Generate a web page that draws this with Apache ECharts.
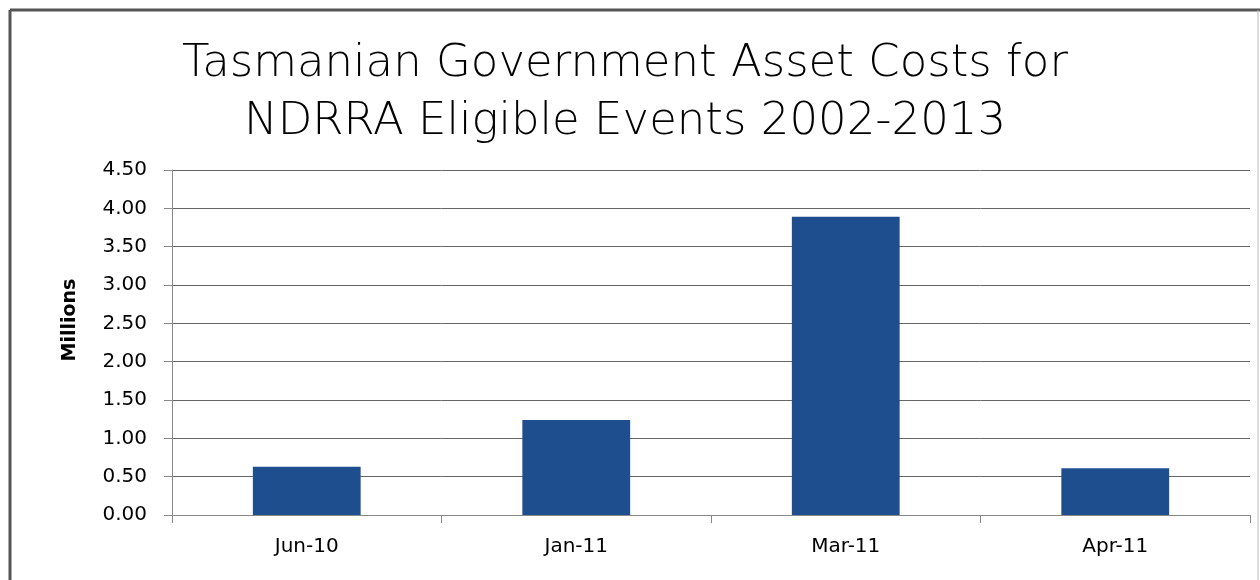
<!DOCTYPE html>
<html>
<head>
<meta charset="utf-8">
<script src="https://cdn.jsdelivr.net/npm/echarts@6/dist/echarts.min.js"></script>
<style>html,body{margin:0;padding:0;background:#fff;}#c{width:1260px;height:580px;}</style>
</head>
<body>
<div id="c"></div>
<script>
const categories = ['Jun-10', 'Jan-11', 'Mar-11', 'Apr-11'];
const values = [0.63, 1.24, 3.89, 0.61];
const titleLines = ['Tasmanian Government Asset Costs for', 'NDRRA Eligible Events 2002-2013'];
const yAxisName = 'Millions';

const chart = echarts.init(document.getElementById('c'));
chart.setOption({
  backgroundColor: '#fff',
  animation: false,
  title: {
    text: titleLines.join('\n'),
    left: 620, top: 30, textAlign: 'center',
    textStyle: { fontFamily: 'DejaVu Sans', fontWeight: 200, fontSize: 45, color: '#000', lineHeight: 58 }
  },
  graphic: [
    { type: 'line', shape: { x1: 10, y1: 10, x2: 1260, y2: 10 }, style: { stroke: '#555', lineWidth: 3 } },
    { type: 'line', shape: { x1: 10, y1: 10, x2: 10, y2: 580 }, style: { stroke: '#555', lineWidth: 3 } },
    { type: 'line', shape: { x1: 1258, y1: 10, x2: 1258, y2: 580 }, style: { stroke: '#bbb', lineWidth: 1 } },
    { type: 'text', x: 70, y: 320, rotation: Math.PI / 2,
      style: { text: yAxisName, fontFamily: 'DejaVu Sans', fontWeight: 'bold', fontSize: 19, fill: '#000', align: 'center', verticalAlign: 'middle' } }
  ],
  grid: { left: 172, right: 10, top: 170, bottom: 65 },
  xAxis: {
    type: 'category', data: categories,
    axisLine: { lineStyle: { color: '#888', width: 1 } },
    axisTick: { show: true, length: 8, lineStyle: { color: '#888' } },
    axisLabel: { margin: 22, fontFamily: 'DejaVu Sans', fontSize: 20, color: '#000' }
  },
  yAxis: {
    type: 'value', min: 0, max: 4.5, interval: 0.5,
    axisLine: { show: true, lineStyle: { color: '#888' } },
    axisTick: { show: true, length: 8, lineStyle: { color: '#888' } },
    axisLabel: { margin: 25, fontFamily: 'DejaVu Sans', fontSize: 20, color: '#000', formatter: v => v.toFixed(2) },
    splitLine: { lineStyle: { color: '#666', width: 1 } }
  },
  series: [{
    type: 'bar', data: values, barWidth: '40%',
    itemStyle: { color: '#1f4e8f' }
  }]
});
</script>
</body>
</html>
